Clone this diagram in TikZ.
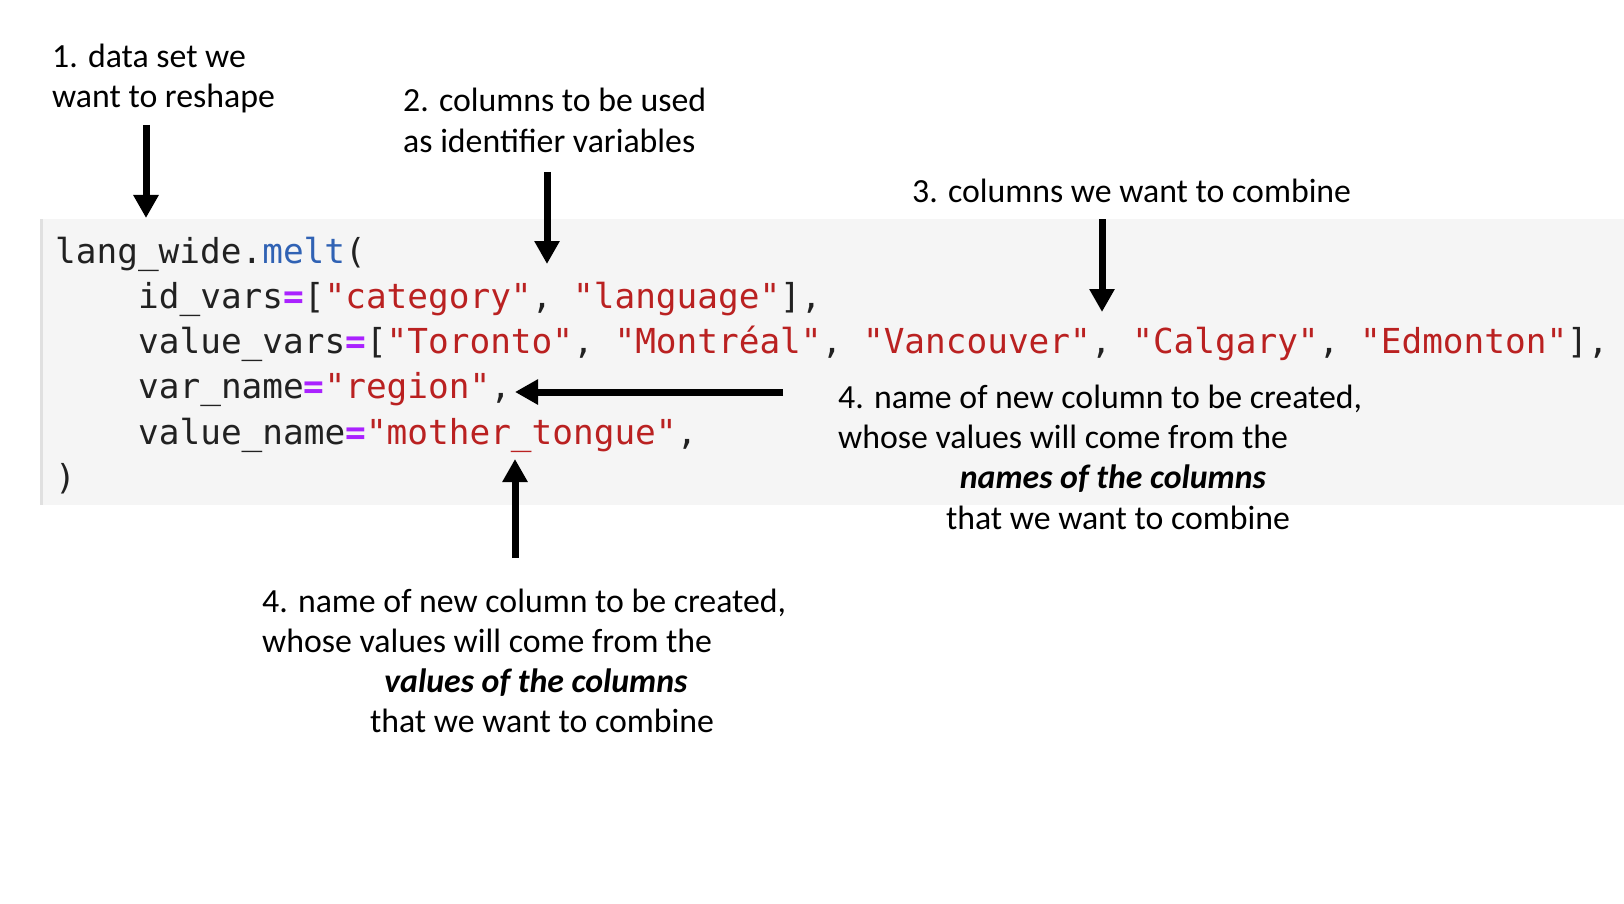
\documentclass[tikz,border=0pt]{standalone}
\usepackage{fontspec}
\setmainfont{Carlito}
\newfontfamily\codefont{DejaVu Sans Mono}
\usetikzlibrary{arrows.meta}

\definecolor{codebg}{HTML}{F5F5F5}
\definecolor{codeedge}{HTML}{E0E0E0}
\definecolor{codeink}{HTML}{212121}
\definecolor{strred}{HTML}{BA2121}
\definecolor{opviolet}{HTML}{AA22FF}
\definecolor{attrblue}{HTML}{3062B4}

\newcommand{\pystr}[1]{\textcolor{strred}{#1}}
\newcommand{\pyop}[1]{\textcolor{opviolet}{\bfseries #1}}
\newcommand{\pyattr}[1]{\textcolor{attrblue}{#1}}

\tikzset{
  note/.style={font=\fontsize{33.8}{40}\selectfont, inner sep=0pt, anchor=base west},
  notemid/.style={note, anchor=base},
  codeline/.style={font=\codefont\fontsize{34.4}{45}\selectfont, text=codeink, inner sep=0pt, anchor=base west},
  pointer/.style={-{Triangle[width=24pt,length=23pt]}, line width=7pt},
}

\begin{document}
\begin{tikzpicture}[x=1pt, y=-1pt]

    % picture frame, in pixels of the reference
    \useasboundingbox (0,0) rectangle (1624,904);

    % left margin of the code and of the indented arguments
    \def\codeX{55}
    \def\argX{138}

    % code cell
    \fill[codebg] (40,219) rectangle (1624,505);
    \draw[codeedge, line width=2.5pt] (41.5,219) -- (41.5,505);

    \node[codeline] (melt) at (\codeX,263) {lang\_wide.\pyattr{melt}(};
    \node[codeline] (idvars) at (\argX,308) {id\_vars\pyop{=}[\pystr{"category"}, \pystr{"language"}],};
    \node[codeline] (valuevars) at (\argX,353) {value\_vars\pyop{=}[\pystr{"Toronto"}, \pystr{"Montréal"}, \pystr{"Vancouver"}, \pystr{"Calgary"}, \pystr{"Edmonton"}],};
    \node[codeline] (varname) at (\argX,398) {var\_name\pyop{=}\pystr{"region"},};
    \node[codeline] (valuename) at (\argX,444) {value\_name\pyop{=}\pystr{"mother\_tongue"},};
    \node[codeline] (close) at (\codeX,489) {)};

    % 1. data set
    \node[note] (dataA) at (52,68) {1. data set we};
    \node[note] (dataB) at (52,108) {want to reshape};

    % 2. identifier variables
    \node[note] (idA) at (403,112) {2. columns to be used};
    \node[note] (idB) at (403,153) {as identifier variables};

    % 3. value columns
    \node[note] (comb) at (912,202) {3. columns we want to combine};

    % 4. var_name
    \node[note] (varA) at (838,408) {4. name of new column to be created,};
    \node[note] (varB) at (838,448) {whose values will come from the};
    \node[notemid] (varC) at (1113,488) {\textbf{\textit{names of the columns}}};
    \node[notemid] (varD) at (1118,529) {that we want to combine};

    % 4. value_name
    \node[note] (valA) at (262,612) {4. name of new column to be created,};
    \node[note] (valB) at (262,652) {whose values will come from the};
    \node[notemid] (valC) at (536,692) {\textbf{\textit{values of the columns}}};
    \node[notemid] (valD) at (542,732) {that we want to combine};

    % arrow ends
    \coordinate (dataT) at (146,125);
    \coordinate (dataH) at (146,218);
    \coordinate (idT) at (547,172);
    \coordinate (idH) at (547,264);
    \coordinate (combT) at (1102,219);
    \coordinate (combH) at (1102,312);
    \coordinate (varT) at (783,392);
    \coordinate (varH) at (515,392);
    \coordinate (valT) at (515,558);
    \coordinate (valH) at (515,459);

    \draw[pointer] (dataT) -- (dataH);
    \draw[pointer] (idT) -- (idH);
    \draw[pointer] (combT) -- (combH);
    \draw[pointer] (varT) -- (varH);
    \draw[pointer] (valT) -- (valH);

\end{tikzpicture}
\end{document}
